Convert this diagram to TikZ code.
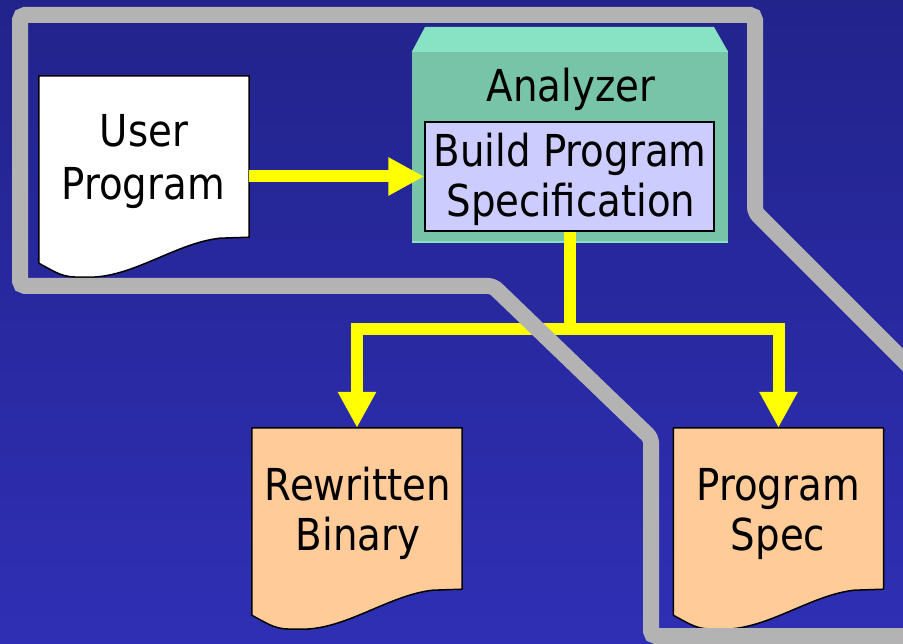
\documentclass[tikz,border=0pt]{standalone}
\usepackage{fontspec}
\setmainfont[FakeStretch=0.88]{DejaVu Sans}
\usetikzlibrary{arrows.meta,calc}

\definecolor{bgtop}{RGB}{34,35,139}
\definecolor{bgbot}{RGB}{47,47,181}
\definecolor{framegray}{RGB}{179,179,179}
\definecolor{peach}{RGB}{255,204,153}
\definecolor{lavender}{RGB}{204,204,255}
\definecolor{tealbody}{RGB}{120,196,168}
\definecolor{tealtop}{RGB}{136,226,196}
\definecolor{flowyellow}{RGB}{255,255,0}

% outline of a document sheet with a wavy lower edge, drawn around node #1
\newcommand\docsheet[2]{%
  \draw[docline, fill=#2] (#1.north west) -- (#1.north east) -- (#1.south east)
    -- ($(#1.south west)!0.86!(#1.south east)+(0,1)$)
    .. controls ($(#1.south west)!0.65!(#1.south east)+(0,6)$)
       and ($(#1.south west)!0.45!(#1.south east)+(0,40)$)
    .. ($(#1.south west)!0.24!(#1.south east)+(0,40)$)
    .. controls ($(#1.south west)!0.12!(#1.south east)+(0,40)$)
    .. ($(#1.south west)+(0,26)$) -- cycle;}

\begin{document}
\begin{tikzpicture}[x=1pt,y=-1pt,
  txt/.style={font=\fontsize{44}{52}\selectfont, anchor=base, inner sep=0pt},
  docbody/.style={minimum width=210pt, minimum height=161pt, inner sep=0pt},
  docline/.style={draw=black, line width=1.5pt, line join=round},
  flow/.style={draw=flowyellow, line width=12pt},
  flowarrow/.style={flow, -{Triangle[length=36pt,width=36pt]}},
  outline/.style={draw=framegray, line width=16pt, rounded corners=5pt}]

\useasboundingbox (0,0) rectangle (903,644);
\clip (0,0) rectangle (903,644);
\shade[top color=bgtop, bottom color=bgbot] (0,0) rectangle (903,644);

% input document
\node[docbody] (user) at (144,156.5) {};
\docsheet{user}{white}
\node[txt] (userA) at (144,147) {User};
\node[txt] (userB) at (143,200) {Program};

% analyzer block with its raised top face
\node[minimum width=316pt, minimum height=191pt, inner sep=0pt, fill=tealbody]
  (analyzer) at (570,147.5) {};
\fill[tealtop] (analyzer.north west) -- (425,27) -- (714,27) -- (analyzer.north east) -- cycle;
\draw[tealtop, line width=2pt] ($(analyzer.south west)+(0,-1)$) -- ($(analyzer.south east)+(0,-1)$);
\node[txt] (analyzerlabel) at (571,102) {Analyzer};

\node[minimum width=289pt, minimum height=109pt, inner sep=0pt, fill=lavender,
  draw=black, line width=1.5pt] (build) at (569.5,176.5) {};
\node[txt] (buildA) at (570,167) {Build Program};
\node[txt] (buildB) at (571,217) {Specification};

% output documents
\node[docbody] (rewritten) at (357,508.5) {};
\docsheet{rewritten}{peach}
\node[txt] (rewA) at (358,500) {Rewritten};
\node[txt] (rewB) at (358,550) {Binary};

\node[docbody] (spec) at (778.5,508.5) {};
\docsheet{spec}{peach}
\node[txt] (specA) at (778,500) {Program};
\node[txt] (specB) at (778,550) {Spec};

% data flow
\draw[flowarrow] (user.east |- build.west) -- (build.west);
\coordinate (split) at (build.south |- 0,329);
\draw[flow] (build.south) -- (split);
\draw[flowarrow] (split) -| (rewritten.north);
\draw[flowarrow] (split) -| (spec.north);

% boundary line
\draw[outline] (915,372) -- (755,212) -- (755,15) -- (20,15) -- (20,286)
  -- (493,286) -- (651,438) -- (651,636) -- (915,636);
\end{tikzpicture}
\end{document}
